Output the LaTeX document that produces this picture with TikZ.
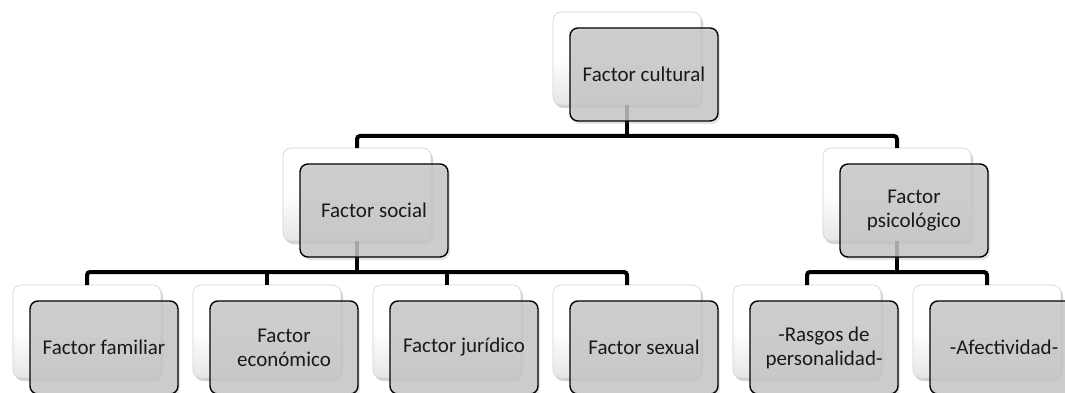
\documentclass[tikz,border=0pt]{standalone}
\usepackage{fontspec}
\setmainfont{Carlito}
\usetikzlibrary{shadows}
\tikzset{
  backbox/.style={draw=gray!35, line width=0.6pt, rounded corners=8pt, minimum width=148pt, minimum height=93pt,
    top color=white, bottom color=gray!20, middle color=white, outer sep=0pt,
    drop shadow={shadow xshift=2pt, shadow yshift=-3pt, opacity=0.35}},
  frontbox/.style={draw=black, line width=1.4pt, rounded corners=8pt, minimum width=148pt, minimum height=93pt,
    fill=black!22, fill opacity=0.82, text opacity=1, outer sep=0pt, align=center,
    font=\fontsize{21}{24}\selectfont, text=black!90,
    drop shadow={shadow xshift=2pt, shadow yshift=-3pt, opacity=0.2}},
  conn/.style={draw=black, line width=4pt, rounded corners=3pt}
}
\begin{document}
\begin{tikzpicture}[x=1pt,y=-1pt]
\clip (0,0) rectangle (1065,393);
\fill[white] (0,0) rectangle (1065,393);
% junction coordinates
\coordinate (j0) at (627,136);
\coordinate (j1) at (357,272);
\coordinate (j2) at (897,272);
% back boxes
\node[backbox] (b0) at (627,58.5) {};
\node[backbox] (b1) at (357,194.5) {};
\node[backbox] (b2) at (897,194.5) {};
\node[backbox] (b11) at (87,331.5) {};
\node[backbox] (b12) at (267,331.5) {};
\node[backbox] (b13) at (447,331.5) {};
\node[backbox] (b14) at (627,331.5) {};
\node[backbox] (b21) at (807,331.5) {};
\node[backbox] (b22) at (987,331.5) {};
% connectors
\draw[conn] (b0.south) -- (j0);
\draw[conn] (b1.north) |- (j0) -| (b2.north);
\draw[conn] (b1.south) -- (j1);
\draw[conn] (b11.north) |- (j1) -| (b14.north);
\draw[conn] (b12.north) -- (b12.north |- j1);
\draw[conn] (b13.north) -- (b13.north |- j1);
\draw[conn] (b2.south) -- (j2);
\draw[conn] (b21.north) |- (j2) -| (b22.north);
% front boxes
\node[frontbox] (f0) at (644,74.5) {Factor cultural};
\node[frontbox] (f1) at (374,210.5) {Factor social};
\node[frontbox] (f2) at (914,210.5) {Factor\\psicológico};
\node[frontbox] (f11) at (104,347.5) {Factor familiar};
\node[frontbox] (f12) at (284,347.5) {Factor\\económico};
\node[frontbox] (f13) at (464,347.5) {Factor jurídico};
\node[frontbox] (f14) at (644,347.5) {Factor sexual};
\node[frontbox] (f21) at (824,347.5) {-Rasgos de\\personalidad-};
\node[frontbox] (f22) at (1004,347.5) {-Afectividad-};
\end{tikzpicture}
\end{document}
